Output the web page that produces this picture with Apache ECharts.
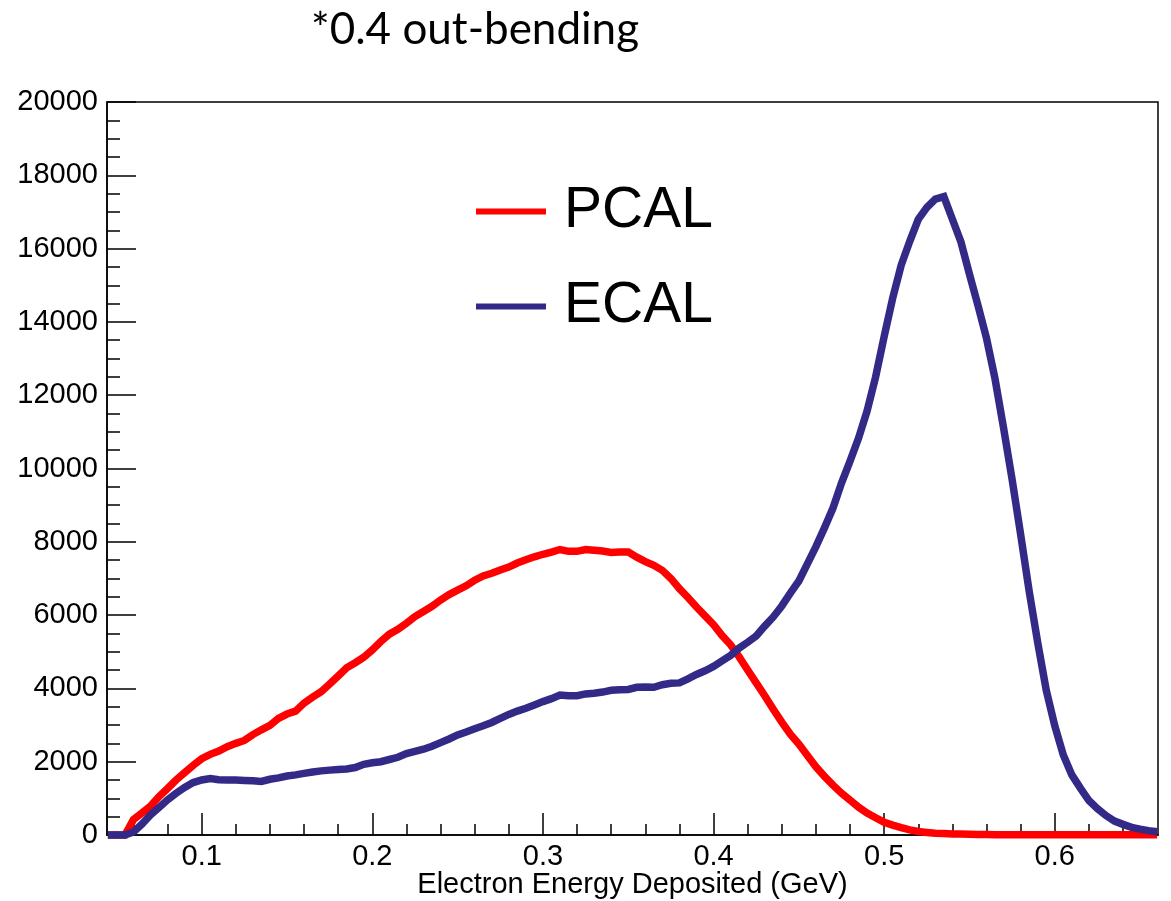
<!DOCTYPE html>
<html>
<head>
<meta charset="utf-8">
<script src="https://cdn.jsdelivr.net/npm/echarts@6/dist/echarts.min.js"></script>
<style>
html,body{margin:0;padding:0;background:#fff;}
#chart{width:1171px;height:901px;}
</style>
</head>
<body>
<div id="chart"></div>
<script>
// Bin centres (GeV)
const energies = [
0.045,0.050,0.055,0.060,0.065,0.070,0.075,0.080,0.085,0.090,0.095,
0.100,0.105,0.110,0.115,0.120,0.125,0.130,0.135,0.140,0.145,
0.150,0.155,0.160,0.165,0.170,0.175,0.180,0.185,0.190,0.195,
0.200,0.205,0.210,0.215,0.220,0.225,0.230,0.235,0.240,0.245,
0.250,0.255,0.260,0.265,0.270,0.275,0.280,0.285,0.290,0.295,
0.300,0.305,0.310,0.315,0.320,0.325,0.330,0.335,0.340,0.345,
0.350,0.355,0.360,0.365,0.370,0.375,0.380,0.385,0.390,0.395,
0.400,0.405,0.410,0.415,0.420,0.425,0.430,0.435,0.440,0.445,
0.450,0.455,0.460,0.465,0.470,0.475,0.480,0.485,0.490,0.495,
0.500,0.505,0.510,0.515,0.520,0.525,0.530,0.535,0.540,0.545,
0.550,0.555,0.560,0.565,0.570,0.575,0.580,0.585,0.590,0.595,
0.600,0.605,0.610,0.615,0.620,0.625,0.630,0.635,0.640,0.645,
0.650,0.655,0.660];

const pcal = [
0,0,0,420,600,790,1050,1270,1500,1700,1900,
2080,2200,2290,2410,2500,2580,2740,2870,2990,3180,
3300,3380,3600,3760,3910,4120,4340,4560,4700,4850,
5050,5280,5480,5610,5780,5960,6100,6240,6410,6560,
6680,6800,6950,7070,7140,7230,7310,7420,7510,7590,
7660,7720,7790,7740,7740,7790,7770,7750,7710,7720,
7720,7580,7460,7360,7220,7000,6720,6480,6220,5980,
5740,5440,5190,4860,4500,4150,3800,3430,3080,2750,
2480,2170,1860,1600,1360,1140,950,760,600,470,
350,270,200,140,95,70,50,40,30,25,
20,15,12,10,10,10,10,10,10,10,
10,10,10,10,10,10,10,10,10,10,
10,10,10];

const ecal = [
0,0,0,80,300,545,750,960,1140,1300,1430,
1500,1540,1510,1500,1500,1490,1480,1460,1520,1560,
1610,1640,1680,1720,1750,1770,1790,1800,1840,1930,
1970,2000,2060,2120,2220,2280,2340,2420,2520,2620,
2730,2810,2900,2980,3070,3180,3290,3380,3460,3550,
3640,3720,3820,3800,3800,3850,3870,3900,3950,3960,
3970,4030,4040,4030,4100,4140,4150,4260,4380,4480,
4600,4750,4900,5100,5260,5430,5700,5950,6250,6600,
6930,7400,7870,8380,8920,9600,10200,10830,11570,12500,
13600,14650,15550,16200,16800,17120,17350,17420,16800,16180,
15300,14450,13550,12440,11100,9700,8200,6650,5250,3950,
2980,2180,1640,1280,940,720,530,380,290,210,
160,120,90];

const xMajorTicks = [0.1,0.2,0.3,0.4,0.5,0.6];
const xMinorTicks = [0.06,0.08,0.12,0.14,0.16,0.18,0.22,0.24,0.26,0.28,0.32,0.34,0.36,0.38,0.42,0.44,0.46,0.48,0.52,0.54,0.56,0.58,0.62,0.64];
const seriesNames = ['PCAL','ECAL'];
const titleText = '*0.4 out-bending';
const xTitle = 'Electron Energy Deposited (GeV)';

const AX_FONT = '"Liberation Sans", Arial, Helvetica, sans-serif';
const RED = '#ff0000';
const BLUE = '#332a88';

const toPairs = (xs, ys) => xs.map((x, i) => [x, ys[i]]);

const chart = echarts.init(document.getElementById('chart'), null, {renderer: 'canvas'});
chart.setOption({
  animation: false,
  backgroundColor: '#ffffff',
  title: {
    text: titleText,
    left: 311,
    top: 8,
    padding: 0,
    textStyle: {fontFamily: 'Lato, "Open Sans", sans-serif', fontSize: 44, fontWeight: 'normal', color: '#000'}
  },
  legend: {
    data: seriesNames,
    orient: 'vertical',
    left: 476,
    top: 183,
    padding: 0,
    itemWidth: 70,
    itemHeight: 6,
    itemGap: 38,
    icon: 'rect',
    textStyle: {fontFamily: AX_FONT, fontSize: 57, lineHeight: 57, color: '#000', padding: [0, 0, 0, 13]}
  },
  grid: {
    left: 107, right: 13, top: 102, bottom: 66,
    outerBoundsMode: 'none', containLabel: false,
    show: true, borderColor: '#000', borderWidth: 1.5, backgroundColor: 'transparent'
  },
  xAxis: [{
    type: 'value', min: 0.0445, max: 0.6605,
    name: xTitle, nameLocation: 'middle', nameGap: 35, nameMoveOverlap: false,
    nameTextStyle: {fontFamily: AX_FONT, fontSize: 29, lineHeight: 30, color: '#000'},
    axisLine: {show: true, onZero: false, lineStyle: {color: '#000', width: 1.5}},
    axisTick: {show: true, inside: true, length: 22, customValues: xMajorTicks, lineStyle: {color: '#000', width: 1.5}},
    axisLabel: {show: true, customValues: xMajorTicks, margin: 7, fontFamily: AX_FONT, fontSize: 29, color: '#000',
      formatter: v => String(Math.round(v * 10) / 10)},
    splitLine: {show: false}
  }, {
    type: 'value', min: 0.0445, max: 0.6605, position: 'bottom', offset: 0,
    axisLine: {show: false},
    axisTick: {show: true, inside: true, length: 11, customValues: xMinorTicks, lineStyle: {color: '#000', width: 1.5}},
    axisLabel: {show: false},
    splitLine: {show: false}
  }],
  yAxis: {
    type: 'value', min: 0, max: 20000, interval: 2000,
    axisLine: {show: true, onZero: false, lineStyle: {color: '#000', width: 1.5}},
    axisTick: {show: true, inside: true, length: 29, lineStyle: {color: '#000', width: 1.5}},
    minorTick: {show: true, splitNumber: 4, length: 13, lineStyle: {color: '#000', width: 1.5}},
    axisLabel: {margin: 9, fontFamily: AX_FONT, fontSize: 29, color: '#000', formatter: v => String(v)},
    splitLine: {show: false}
  },
  series: [{
    name: seriesNames[0], type: 'line', xAxisIndex: 0,
    data: toPairs(energies, pcal), showSymbol: false, clip: false,
    lineStyle: {color: RED, width: 7.5, join: 'miter'}, itemStyle: {color: RED}, z: 2
  }, {
    name: seriesNames[1], type: 'line', xAxisIndex: 0,
    data: toPairs(energies, ecal), showSymbol: false, clip: false,
    lineStyle: {color: BLUE, width: 7.5, join: 'miter'}, itemStyle: {color: BLUE}, z: 3
  }]
});
</script>
</body>
</html>
